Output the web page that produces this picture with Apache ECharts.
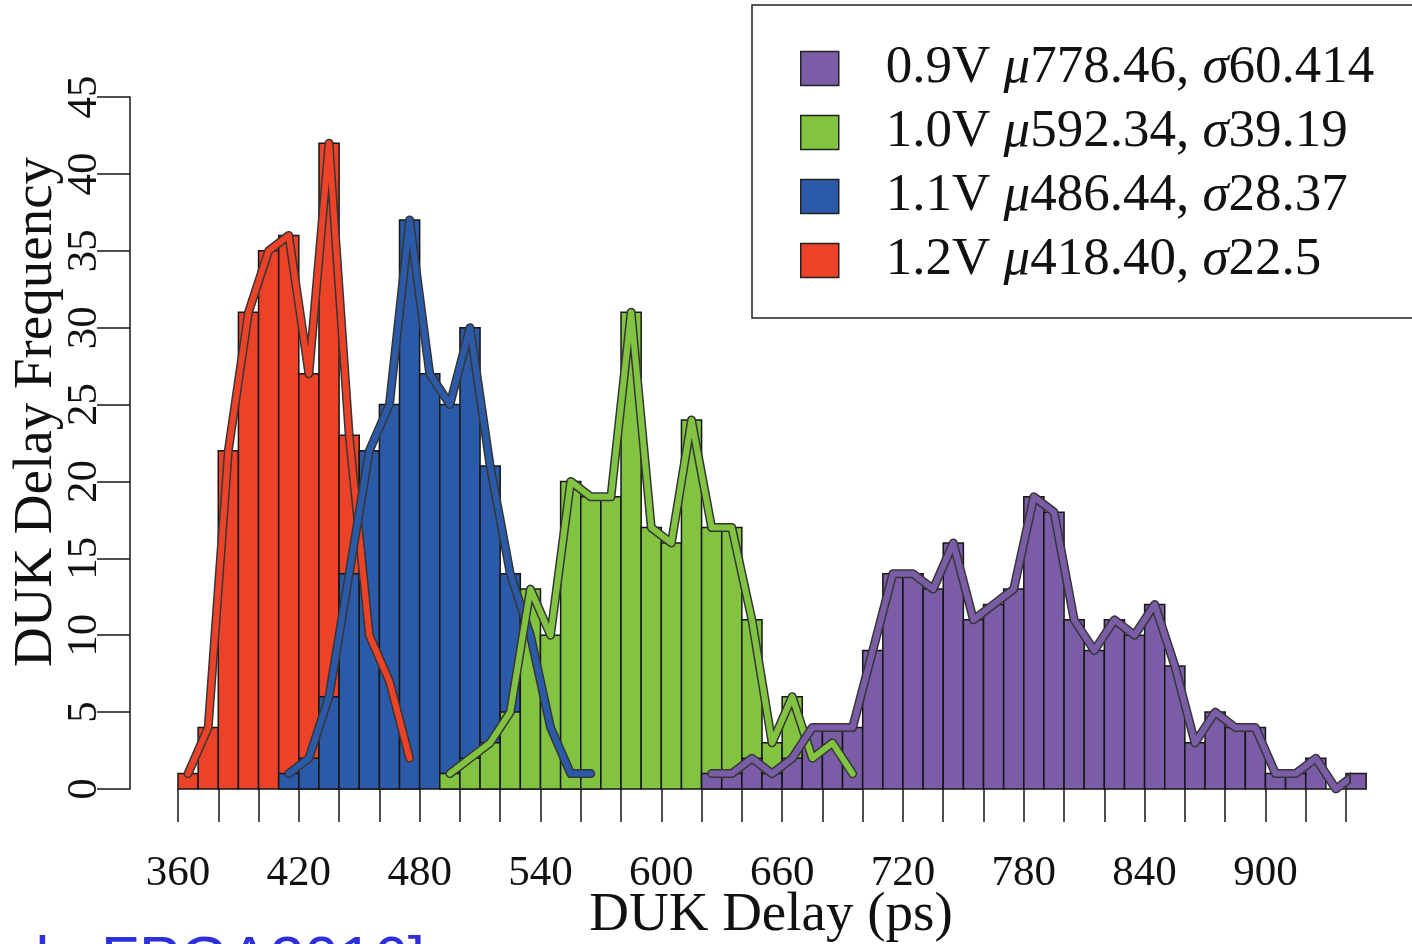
<!DOCTYPE html>
<html>
<head>
<meta charset="utf-8">
<script src="https://cdn.jsdelivr.net/npm/echarts@6/dist/echarts.min.js"></script>
<style>
  html, body { margin: 0; padding: 0; background: #fff; }
  #chart { width: 1412px; height: 944px; }
</style>
</head>
<body>
<div id="chart"></div>
<script>
// histogram bins are 10 ps wide, keyed by bin start
const BIN = 10

const redStarts = [360, 370, 380, 390, 400, 410, 420, 430, 440, 450, 460, 470]
const redCounts = [1, 4, 22, 31, 35, 36, 27, 42, 23, 10, 7, 2]

const blueStarts = [410, 420, 430, 440, 450, 460, 470, 480, 490, 500, 510, 520, 530, 540, 550, 560]
const blueCounts = [1, 2, 6, 14, 22, 25, 37, 27, 25, 30, 21, 14, 10, 4, 1, 1]

const greenStarts = [490, 500, 510, 520, 530, 540, 550, 560, 570, 580, 590, 600, 610, 620, 630, 640, 650, 660, 670, 680, 690]
const greenCounts = [1, 2, 3, 5, 13, 10, 20, 19, 19, 31, 17, 16, 24, 17, 17, 11, 3, 6, 2, 3, 1]

const purpleStarts = [620, 630, 640, 650, 660, 670, 680, 690, 700, 710, 720, 730, 740, 750, 760, 770, 780,
                      790, 800, 810, 820, 830, 840, 850, 860, 870, 880, 890, 900, 910, 920, 930, 940]
const purpleCounts = [1, 1, 2, 1, 2, 4, 4, 4, 9, 14, 14, 13, 16, 11, 12, 13, 19,
                      18, 11, 9, 11, 10, 12, 8, 3, 5, 4, 4, 1, 1, 2, 0, 1]

const xTickLabels = [360, 420, 480, 540, 600, 660, 720, 780, 840, 900]

const groups = [
    { name: '1.2V', mu: '418.40', sigma: '22.5', color: '#EC4227', starts: redStarts, counts: redCounts },
    { name: '1.1V', mu: '486.44', sigma: '28.37', color: '#2B5AA8', starts: blueStarts, counts: blueCounts },
    { name: '1.0V', mu: '592.34', sigma: '39.19', color: '#82C341', starts: greenStarts, counts: greenCounts },
    { name: '0.9V', mu: '778.46', sigma: '60.414', color: '#7B5CA6', starts: purpleStarts, counts: purpleCounts }
]

const SERIF = '"Liberation Serif", "DejaVu Serif", serif'

const renderBar = (params, api) => {
    const x0 = api.value(0)
    const v = api.value(1)
    const p0 = api.coord([x0, v])
    const p1 = api.coord([x0 + BIN, 0])
    return {
        type: 'rect',
        shape: { x: p0[0], y: p0[1], width: p1[0] - p0[0], height: p1[1] - p0[1] },
        style: { fill: api.visual('color'), stroke: '#161616', lineWidth: 1.5 }
    }
}

const series = []
groups.forEach((g, i) => {
    series.push({
        name: g.name,
        type: 'custom',
        renderItem: renderBar,
        clip: false,
        z: 2,
        encode: { x: 0, y: 1 },
        itemStyle: { color: g.color },
        data: g.starts.map((s, k) => [s, g.counts[k]])
    })
})
groups.forEach((g, i) => {
    const pts = g.starts.map((s, k) => [s + BIN / 2, g.counts[k]])
    series.push({
        name: g.name + ' outline',
        type: 'line',
        symbol: 'none',
        silent: true,
        z: 3 + i * 2,
        lineStyle: { color: '#363636', width: 9, join: 'round', cap: 'round' },
        data: pts
    })
    series.push({
        name: g.name + ' curve',
        type: 'line',
        symbol: 'none',
        silent: true,
        z: 4 + i * 2,
        lineStyle: { color: g.color, width: 6, join: 'round', cap: 'round' },
        data: pts
    })
})

const legendText = {}
groups.forEach(g => {
    legendText[g.name] = g.name + ' {i|\u03bc}' + g.mu + ', {i|\u03c3}' + g.sigma
})

let chart = echarts.init(document.querySelector('#chart'))
chart.setOption({
    animation: false,
    grid: { left: 178, right: 66, top: 97, bottom: 155, containLabel: false, outerBoundsMode: 'none' },
    legend: {
        orient: 'vertical',
        left: 752,
        top: 5,
        data: ['0.9V', '1.0V', '1.1V', '1.2V'],
        icon: 'rect',
        itemWidth: 38,
        itemHeight: 34,
        itemGap: 11,
        padding: [37, 70, 31, 48],
        backgroundColor: '#fff',
        borderColor: '#222',
        borderWidth: 1.5,
        borderRadius: 0,
        selectedMode: false,
        itemStyle: { borderColor: '#222', borderWidth: 1.5 },
        textStyle: {
            fontFamily: SERIF,
            fontSize: 53,
            color: '#111',
            padding: [0, 0, 0, 42],
            rich: {
                i: { fontFamily: SERIF, fontStyle: 'italic', fontSize: 53, color: '#111' }
            }
        },
        formatter: name => legendText[name]
    },
    xAxis: {
        type: 'value',
        min: 360,
        max: 940,
        interval: 20,
        name: 'DUK Delay (ps)',
        nameLocation: 'middle',
        nameGap: 99,
        nameMoveOverlap: false,
        nameTextStyle: { fontFamily: SERIF, fontSize: 55, color: '#111', padding: [0, 0, 0, 18] },
        axisLine: { show: false },
        axisTick: { show: true, length: 33, lineStyle: { color: '#161616', width: 1.5 } },
        axisLabel: {
            margin: 63,
            fontFamily: SERIF,
            fontSize: 43,
            color: '#111',
            formatter: v => xTickLabels.includes(v) ? String(v) : ''
        },
        splitLine: { show: false }
    },
    yAxis: {
        type: 'value',
        min: 0,
        max: 45,
        interval: 5,
        offset: 48,
        axisLine: { show: true, lineStyle: { color: '#161616', width: 1.5 } },
        axisTick: { show: true, length: 33, lineStyle: { color: '#161616', width: 1.5 } },
        axisLabel: {
            rotate: 90,
            margin: 24,
            fontFamily: SERIF,
            fontSize: 43,
            color: '#111'
        },
        splitLine: { show: false }
    },
    graphic: [
        {
            type: 'text',
            x: 37,
            y: 412,
            rotation: Math.PI / 2,
            style: {
                text: 'DUK Delay Frequency',
                font: '55px "Liberation Serif"',
                fill: '#111',
                textAlign: 'center',
                textVerticalAlign: 'middle'
            }
        },
        {
            type: 'text',
            x: 425,
            y: 931,
            style: {
                text: 'et al., FPGA2016]',
                font: '62px "Liberation Sans"',
                fill: '#2E2EDB',
                textAlign: 'right',
                textVerticalAlign: 'top'
            }
        }
    ],
    series: series
})
window.onresize = function() {
    chart.resize()
}
</script>
</body>
</html>
